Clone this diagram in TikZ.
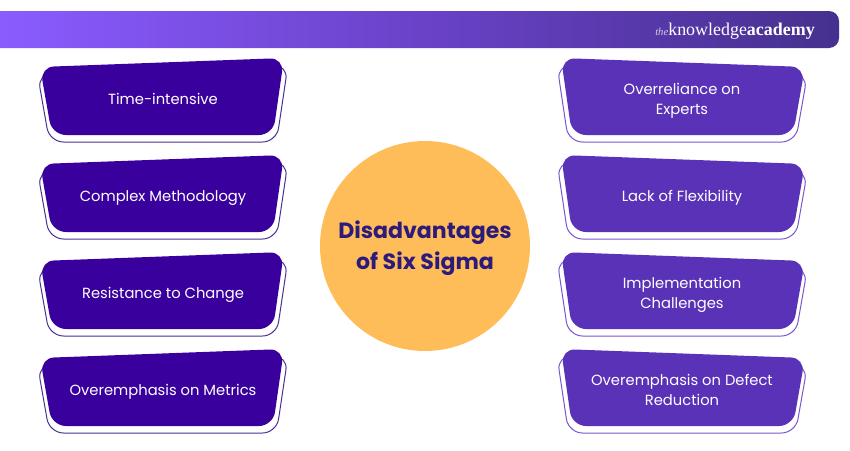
\documentclass[tikz,border=0pt]{standalone}
\usepackage{fontspec}
\setmainfont{Poppins}
\newfontfamily\logofont{Liberation Serif}
\definecolor{darkbox}{HTML}{3A009E}
\definecolor{darkline}{HTML}{4A2F96}
\definecolor{lightbox}{HTML}{5A32B8}
\definecolor{lightline}{HTML}{7B55D0}
\definecolor{circ}{HTML}{FFBD59}
\definecolor{circtext}{HTML}{2C1A7C}
\definecolor{barL}{HTML}{8A5CFF}
\definecolor{barM}{HTML}{6A42C8}
\definecolor{barR}{HTML}{46308F}
\tikzset{
  boxfill/.style={rounded corners=10.5pt,draw=none},
  boxline/.style={rounded corners=10.5pt,line width=0.75pt,fill=white},
  boxtext/.style={text=white,font=\fontsize{11.05}{15}\selectfont,align=center,inner sep=0pt},
}
\newcommand{\leftbox}[3]{%
  \begin{scope}[yshift=#1*-0.75pt]
    \draw[boxline,draw=darkline] (37.5,74)--(288,65)--(276.5,142)--(49.5,142)--cycle;
    \fill[boxfill,darkbox] (40,67)--(284,58)--(273,135)--(52,135)--cycle;
    \node[boxtext] (#2) at (163,100) {#3};
  \end{scope}}
\newcommand{\rightbox}[3]{%
  \begin{scope}[yshift=#1*-0.75pt]
    \draw[boxline,draw=lightline] (557,65)--(807.5,74)--(795.5,142)--(568.5,142)--cycle;
    \fill[boxfill,lightbox] (561,58)--(805,67)--(793,135)--(572,135)--cycle;
    \node[boxtext] (#2) at (682,100) {#3};
  \end{scope}}
\begin{document}
\begin{tikzpicture}[x=0.75pt,y=-0.75pt]
\useasboundingbox (0,0) rectangle (850,450);
\fill[white] (0,0) rectangle (850,450);
\shade[left color=barL,right color=barR,middle color=barM,rounded corners=0pt]
  (0,11) -- (829,11) arc[start angle=90,end angle=0,radius=7.5pt] -- (839,38) arc[start angle=0,end angle=-90,radius=7.5pt] -- (0,48) -- cycle;
\node[inner sep=0pt,text=white,anchor=base west] (logo) at (655,35)
  {\logofont\fontsize{13.45}{14}\selectfont{\itshape\fontsize{8}{10}\selectfont\color{white!75!barR}the}knowledge\textbf{academy}};
\leftbox{0}{a}{\strut Time-intensive}
\leftbox{97}{b}{\strut Complex Methodology}
\leftbox{194}{c}{\strut Resistance to Change}
\leftbox{291}{d}{\strut Overemphasis on Metrics}
\rightbox{0}{e}{\strut Overreliance on\\\strut Experts}
\rightbox{97}{f}{\strut Lack of Flexibility}
\rightbox{194}{g}{\strut Implementation\\\strut Challenges}
\rightbox{291}{h}{\strut Overemphasis on Defect\\\strut Reduction}
\fill[circ] (425,246) circle[radius=78.75pt];
\node[text=circtext,font=\fontsize{16.55}{23}\selectfont\bfseries,align=center,inner sep=0pt] (title) at (425,248.5) {Disadvantages\\of Six Sigma};
\end{tikzpicture}
\end{document}
